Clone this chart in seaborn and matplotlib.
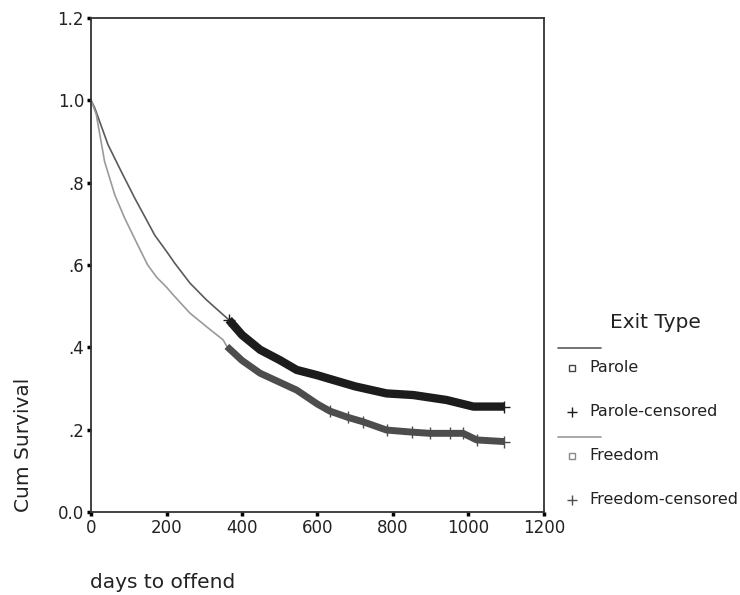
import matplotlib
matplotlib.use("Agg")
import matplotlib.pyplot as plt
from matplotlib.lines import Line2D
import seaborn as sns

# ---- data ----
parole_days = [0, 10, 45, 80, 116, 142, 169, 200, 222, 262, 306, 350, 365]
parole_surv = [1.0, 0.981, 0.892, 0.827, 0.762, 0.718, 0.672, 0.633, 0.604, 0.556, 0.515, 0.479, 0.467]
parole_cens_days = [365, 400, 448, 500, 545, 600, 633, 700, 783, 854, 942, 1013, 1095]
parole_cens_surv = [0.467, 0.430, 0.394, 0.369, 0.345, 0.332, 0.323, 0.305, 0.288, 0.284, 0.272, 0.256, 0.256]

freedom_days = [0, 14, 36, 63, 89, 124, 150, 174, 200, 218, 262, 306, 350, 360]
freedom_surv = [1.0, 0.965, 0.851, 0.770, 0.714, 0.648, 0.600, 0.570, 0.546, 0.527, 0.483, 0.450, 0.418, 0.402]
freedom_cens_days = [360, 400, 448, 500, 545, 600, 633, 680, 721, 783, 850, 898, 951, 986, 1022, 1095]
freedom_cens_surv = [0.402, 0.368, 0.337, 0.315, 0.296, 0.262, 0.245, 0.230, 0.219, 0.199, 0.194, 0.191, 0.191, 0.191, 0.175, 0.171]

x_ticks = [0, 200, 400, 600, 800, 1000, 1200]
y_ticks = [0.0, 0.2, 0.4, 0.6, 0.8, 1.0, 1.2]
y_tick_labels = ["0.0", ".2", ".4", ".6", ".8", "1.0", "1.2"]
legend_title = "Exit Type"
legend_labels = ["Parole", "Parole-censored", "Freedom", "Freedom-censored"]

sns.set_theme(style="white")
plt.rcParams["font.family"] = ["DejaVu Sans"]

fig = plt.figure(figsize=(7.4, 5.95), dpi=100)
ax = fig.add_axes([0.123, 0.1395, 0.612, 0.8305])

c_parole_line = "#5a5a5a"
c_parole_cens = "#1c1c1c"
c_free_line = "#9a9a9a"
c_free_cens = "#4d4d4d"

sns.lineplot(x=parole_days, y=parole_surv, ax=ax, color=c_parole_line, lw=1.2,
             sort=False, estimator=None)
sns.lineplot(x=freedom_days, y=freedom_surv, ax=ax, color=c_free_line, lw=1.2,
             sort=False, estimator=None)
sns.lineplot(x=parole_cens_days, y=parole_cens_surv, ax=ax, color=c_parole_cens,
             lw=6.0, sort=False, estimator=None, solid_capstyle="butt")
sns.lineplot(x=freedom_cens_days, y=freedom_cens_surv, ax=ax, color=c_free_cens,
             lw=5.0, sort=False, estimator=None, solid_capstyle="butt")
ax.plot(freedom_cens_days[6:], freedom_cens_surv[6:], ls="none", marker="+", ms=8,
        mew=1.0, color=c_free_cens)
ax.plot([parole_cens_days[0], parole_cens_days[-1]],
        [parole_cens_surv[0], parole_cens_surv[-1]], ls="none", marker="+", ms=8,
        mew=1.0, color=c_parole_cens)

ax.set_xlim(0, 1200)
ax.set_ylim(0, 1.2)
ax.set_xticks(x_ticks)
ax.set_xticklabels([str(t) for t in x_ticks])
ax.set_yticks(y_ticks)
ax.set_yticklabels(y_tick_labels)
ax.set_xlabel("")
ax.set_ylabel("")
ax.tick_params(axis="both", direction="out", length=3, width=2.5, color="black",
               labelsize=12, labelcolor="#222222", pad=2, left=True, bottom=True)
for s in ax.spines.values():
    s.set_color("#333333")
    s.set_linewidth(1.3)

fig.text(90 / 740, 1 - 583 / 595, "days to offend", ha="left", va="center",
         fontsize=14.5, color="#222222")
fig.text(24 / 740, 1 - 512 / 595, "Cum Survival", ha="center", va="bottom",
         rotation=90, fontsize=14.5, color="#222222")

# legend drawn manually
fig.text(655 / 740, 1 - 322 / 595, legend_title, ha="center", va="center",
         fontsize=14.5, color="#222222")
def fy(py):
    return 1 - py / 595
fig.add_artist(Line2D([558 / 740, 601 / 740], [fy(348), fy(348)],
                      color=c_parole_line, lw=1.2, transform=fig.transFigure))
fig.add_artist(Line2D([558 / 740, 601 / 740], [fy(437), fy(437)],
                      color=c_free_line, lw=1.2, transform=fig.transFigure))
rows = [(368, "s", "#444444", legend_labels[0]),
        (412, "+", c_parole_cens, legend_labels[1]),
        (456, "s", "#888888", legend_labels[2]),
        (500, "+", c_free_cens, legend_labels[3])]
for py, mk, col, lab in rows:
    if mk == "s":
        fig.add_artist(Line2D([572 / 740], [fy(py)], marker="s", ms=5,
                              mfc="white", mec=col, mew=1.0, ls="none",
                              transform=fig.transFigure))
    else:
        fig.add_artist(Line2D([572 / 740], [fy(py)], marker="+", ms=7,
                              mew=1.0, color=col, ls="none",
                              transform=fig.transFigure))
    fig.text(589 / 740, fy(py), lab, ha="left", va="center", fontsize=11.5,
             color="#222222")

fig.savefig("out.png", dpi=100)
